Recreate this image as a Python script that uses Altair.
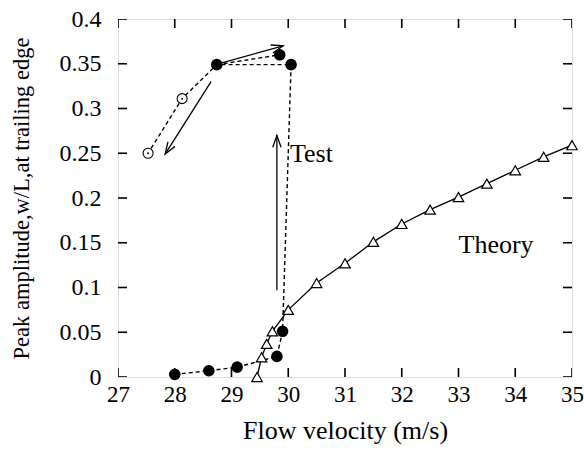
import math
import altair as alt
import pandas as pd

FONT = "Liberation Serif"
W, H = 454, 358
XMIN, XMAX, YMIN, YMAX = 27, 35, 0, 0.4

# Theory curve (open triangles)
theory_x = [29.45, 29.53, 29.62, 29.72, 30.0, 30.5, 31.0, 31.5, 32.0, 32.5, 33.0, 33.5, 34.0, 34.5, 35.0]
theory_y = [0.0, 0.022, 0.037, 0.051, 0.075, 0.105, 0.127, 0.151, 0.171, 0.187, 0.201, 0.216, 0.231, 0.246, 0.259]

# Test, filled circles
test_x = [28.0, 28.6, 29.1, 29.8, 29.9, 30.05, 29.85, 28.74]
test_y = [0.003, 0.007, 0.011, 0.023, 0.051, 0.349, 0.360, 0.349]
# Test, open circles (decreasing speed)
open_x = [28.13, 27.53]
open_y = [0.311, 0.250]

# Dashed connecting paths
path1_x = [28.0, 28.6, 29.1, 29.8, 29.9, 30.05, 28.74, 28.13, 27.53]
path1_y = [0.003, 0.007, 0.011, 0.023, 0.051, 0.349, 0.349, 0.311, 0.250]
path2_x = [28.74, 29.85]
path2_y = [0.349, 0.360]

# Arrows (start -> end)
arr_x1 = [28.83, 28.64, 29.80]
arr_y1 = [0.351, 0.330, 0.097]
arr_x2 = [29.91, 27.83, 29.80]
arr_y2 = [0.370, 0.249, 0.270]

# Labels
lab_text = ["Test", "Theory"]
lab_x = [30.03, 33.0]
lab_y = [0.249, 0.147]

x_ticks = [27, 28, 29, 30, 31, 32, 33, 34, 35]
y_ticks = [0, 0.05, 0.1, 0.15, 0.2, 0.25, 0.3, 0.35, 0.4]

XT = "Flow velocity (m/s)"
YT = "Peak amplitude,w/L,at trailing edge"
xs = alt.Scale(domain=[XMIN, XMAX], nice=False, zero=False)
ys = alt.Scale(domain=[YMIN, YMAX], nice=False, zero=False)
ax_common = dict(ticks=False, domain=False, grid=False, labelFont=FONT,
                 labelColor="black", labelFlush=False, titleFont=FONT, titleFontWeight="normal",
                 titleColor="black")
xax = alt.Axis(values=x_ticks, format="d", labelPadding=6, labelFontSize=23, titleFontSize=26,
               titlePadding=11, **ax_common)
yax = alt.Axis(values=y_ticks, format="~g", labelPadding=17, labelFontSize=24, titleFontSize=22.5,
               titlePadding=26, **ax_common)


def X(f="x"):
    return alt.X(f"{f}:Q", scale=xs, axis=xax, title=XT)


def Y(f="y"):
    return alt.Y(f"{f}:Q", scale=ys, axis=yax, title=YT)


df_theory = pd.DataFrame({"x": theory_x, "y": theory_y, "o": range(len(theory_x))})
df_test = pd.DataFrame({"x": test_x, "y": test_y})
df_open = pd.DataFrame({"x": open_x, "y": open_y})
df_path = pd.DataFrame({
    "x": path1_x + path2_x,
    "y": path1_y + path2_y,
    "g": [1] * len(path1_x) + [2] * len(path2_x),
    "o": list(range(len(path1_x))) + list(range(len(path2_x))),
})

sx = W / (XMAX - XMIN)
sy = H / (YMAX - YMIN)
angles = []
for a, b, c, d in zip(arr_x1, arr_y1, arr_x2, arr_y2):
    ang = math.degrees(math.atan2((c - a) * sx, (d - b) * sy)) % 360
    angles.append(ang)
df_arr = pd.DataFrame({"x": arr_x1, "y": arr_y1, "x2": arr_x2, "y2": arr_y2, "ang": angles})
df_lab = pd.DataFrame({"t": lab_text, "x": lab_x, "y": lab_y})
df_xt = pd.DataFrame({"x": x_ticks})
df_yt = pd.DataFrame({"y": y_ticks})

theory_line = alt.Chart(df_theory).mark_line(color="black", strokeWidth=1.3).encode(
    x=X(), y=Y(), order="o:Q")
theory_pts = alt.Chart(df_theory).mark_point(shape="triangle-up", filled=False, color="black",
                                             size=110, strokeWidth=1.2, fill="white", fillOpacity=1).encode(
    x=X(), y=Y())

paths = alt.Chart(df_path).mark_line(color="black", strokeWidth=1.4, strokeDash=[4, 3]).encode(
    x=X(), y=Y(), detail="g:N", order="o:Q")

test_pts = alt.Chart(df_test).mark_point(shape="circle", filled=True, color="black",
                                         size=135, opacity=1).encode(x=X(), y=Y())
open_pts = alt.Chart(df_open).mark_point(shape="circle", filled=False, color="black",
                                         size=100, strokeWidth=1.1, fill="white", fillOpacity=1).encode(
    x=X(), y=Y())
open_dots = alt.Chart(df_open).mark_point(shape="circle", filled=True, color="black",
                                          size=4, opacity=1).encode(x=X(), y=Y())

arr_lines = alt.Chart(df_arr).mark_rule(color="black", strokeWidth=1.3).encode(
    x=X(), y=Y(), x2="x2:Q", y2="y2:Q")
arr_heads = alt.Chart(df_arr).mark_point(shape="M -0.7 2 L 0 0 L 0.7 2", filled=False,
                                         stroke="black", fill="transparent", fillOpacity=0,
                                         size=140, strokeWidth=1.3, opacity=1).encode(
    x=X("x2"), y=Y("y2"), angle=alt.Angle("ang:Q", scale=None))

labels = alt.Chart(df_lab).mark_text(font=FONT, fontSize=26, align="left", baseline="middle",
                                     color="black").encode(x=X(), y=Y(), text="t:N")

tick_kw = dict(size=18, thickness=1.6, color="black", clip=True, opacity=1)
tick_b = alt.Chart(df_xt).mark_tick(orient="vertical", **tick_kw).encode(
    x=X(), y=alt.Y(datum=YMIN, scale=ys, axis=yax, title=YT))
tick_t = alt.Chart(df_xt).mark_tick(orient="vertical", **tick_kw).encode(
    x=X(), y=alt.Y(datum=YMAX, scale=ys, axis=yax, title=YT))
tick_l = alt.Chart(df_yt).mark_tick(orient="horizontal", **tick_kw).encode(
    y=Y(), x=alt.X(datum=XMIN, scale=xs, axis=xax, title=XT))
tick_r = alt.Chart(df_yt).mark_tick(orient="horizontal", **tick_kw).encode(
    y=Y(), x=alt.X(datum=XMAX, scale=xs, axis=xax, title=XT))

chart = alt.layer(
    theory_line, paths, tick_b, tick_t, tick_l, tick_r,
    arr_lines, arr_heads, theory_pts, open_pts, open_dots, test_pts, labels
).properties(
    width=W, height=H,
    autosize=alt.AutoSizeParams(type="none"),
    padding={"left": 118, "top": 19, "right": 12, "bottom": 76},
    background="white",
).configure_view(stroke="black", strokeWidth=1.8).configure_axis(
    labelFont=FONT, titleFont=FONT,
).configure(font=FONT)

chart.save("out.html", embed_options={"renderer": "svg", "actions": False})
